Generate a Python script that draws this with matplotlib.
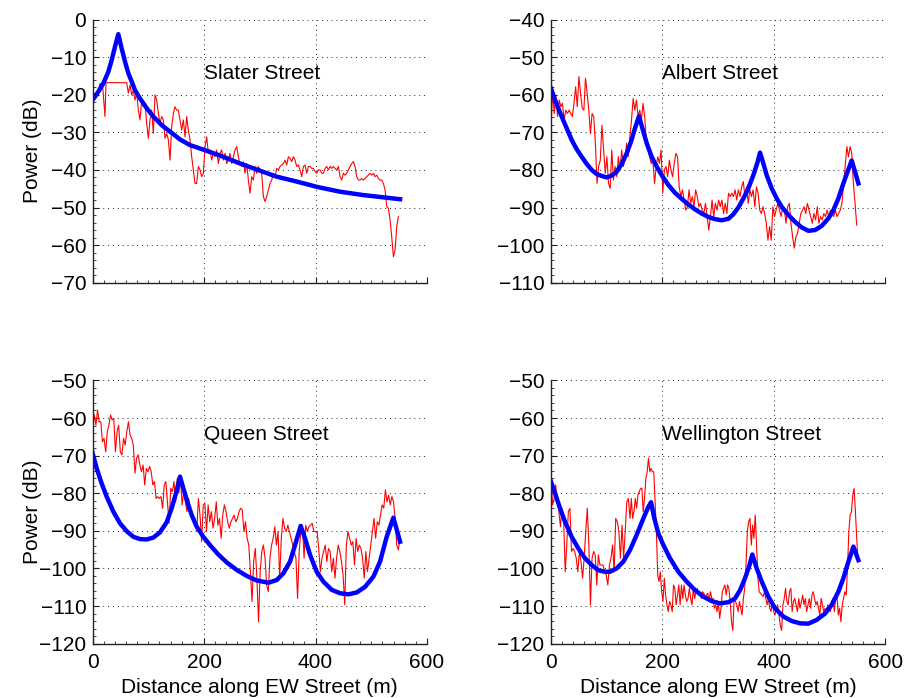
import numpy as np
import matplotlib
matplotlib.use("Agg")
import matplotlib.pyplot as plt
from matplotlib.ticker import MultipleLocator

plt.rcParams['font.family'] = ['Liberation Sans', 'DejaVu Sans']

# --- measured power along each street (dB) ---
# Slater: first few samples, then a clipped flat stretch, then regular sampling
slater_head_x = [0.3, 4.5, 7.5, 13.5, 18.3, 22.4, 24.2]
slater_head_p = [-20.1, -19.6, -20.7, -17.0, -17.9, -25.8, -16.8]
slater_body_range = (61.3, 548.7)
slater_body_p = [
    -16.8, -19.6, -17.4, -20.1, -18.8, -21.4, -19.6, -24.1, -26.7, -21.4,
    -23.2, -22.3, -27.6, -31.6, -26.7, -24.1, -30.3, -20.1, -21.4, -25.0,
    -27.6, -25.8, -26.7, -31.6, -30.3, -32.0, -37.4, -28.5, -25.0, -23.2,
    -24.1, -24.1, -26.7, -29.4, -26.7, -31.2, -25.8, -29.4, -32.0, -36.5,
    -40.0, -43.6, -43.6, -39.1, -40.0, -41.8, -40.9, -33.8, -31.2, -35.6,
    -34.7, -37.4, -35.6, -36.5, -34.7, -38.3, -35.6, -34.7, -37.4, -35.6,
    -38.3, -37.4, -35.6, -38.3, -36.5, -34.7, -33.8, -36.5, -38.3, -39.1,
    -37.8, -40.9, -38.3, -42.7, -46.2, -41.8, -42.7, -39.1, -40.9, -39.1,
    -40.0, -40.9, -47.1, -48.4, -47.1, -45.3, -43.6, -42.7, -40.9, -41.8,
    -39.6, -40.0, -39.1, -38.7, -38.3, -37.4, -38.7, -36.5, -36.9, -37.8,
    -36.5, -37.4, -39.1, -38.7, -40.0, -41.8, -39.1, -38.7, -40.9, -39.1,
    -39.1, -39.6, -39.6, -40.4, -40.9, -40.0, -40.0, -40.9, -40.9, -39.6,
    -39.1, -40.0, -39.1, -39.6, -39.1, -39.6, -40.0, -39.1, -41.8, -42.7,
    -40.9, -41.4, -40.9, -40.0, -39.1, -38.3, -37.8, -39.1, -41.8, -42.7,
    -42.7, -42.3, -42.7, -42.3, -41.8, -41.4, -40.9, -41.4, -40.9, -41.8,
    -41.4, -42.3, -42.7, -42.7, -43.6, -45.3, -49.8, -50.2, -53.3, -57.8,
    -63.1, -61.3, -55.1, -52.4,
]

albert_range = (0.5, 548.9)
albert_p = [
    -69.4, -58.8, -65.0, -60.5, -65.8, -61.4, -63.2, -62.3, -66.7, -64.1,
    -65.0, -64.1, -65.0, -65.8, -62.3, -57.9, -63.2, -55.2, -59.6, -63.6,
    -64.1, -55.6, -59.6, -64.1, -70.3, -65.0, -65.8, -72.9, -83.6, -79.1,
    -77.4, -68.1, -74.7, -80.9, -76.5, -83.6, -84.9, -74.7, -82.7, -79.1,
    -81.8, -76.5, -80.0, -74.7, -79.1, -77.4, -72.9, -76.5, -71.2, -66.7,
    -61.0, -64.1, -61.4, -65.8, -64.1, -66.7, -62.3, -65.8, -72.0, -74.7,
    -76.5, -78.3, -77.4, -83.6, -79.1, -76.5, -78.3, -74.7, -86.2, -80.0,
    -79.1, -81.8, -77.4, -80.0, -81.8, -78.3, -75.6, -76.5, -84.5, -87.1,
    -85.3, -88.0, -90.7, -89.8, -85.3, -88.9, -87.1, -89.8, -85.3, -87.1,
    -89.8, -88.9, -90.7, -91.6, -88.9, -92.4, -96.0, -92.4, -88.0, -92.4,
    -88.9, -90.7, -88.0, -89.8, -88.0, -91.6, -88.9, -91.6, -86.2, -87.1,
    -86.2, -87.1, -85.3, -88.0, -85.3, -87.1, -84.5, -83.1, -87.1, -84.5,
    -88.9, -85.3, -87.1, -85.3, -89.8, -84.5, -86.2, -90.7, -91.6, -89.8,
    -91.6, -94.2, -98.7, -95.1, -98.7, -89.8, -92.4, -90.7, -88.9, -90.7,
    -92.4, -89.8, -90.7, -94.2, -89.8, -88.9, -94.2, -97.8, -100.8, -97.8,
    -96.9, -94.2, -91.6, -90.7, -89.8, -91.6, -88.9, -90.7, -92.4, -94.2,
    -91.6, -93.3, -89.8, -94.2, -92.4, -93.3, -91.6, -92.4, -90.7, -92.4,
    -90.7, -91.6, -92.4, -90.7, -92.4, -91.6, -90.7, -88.9, -83.6, -79.1,
    -73.8, -76.5, -73.8, -75.6, -83.6, -88.9, -94.7,
]

queen_range = (0.3, 551.6)
queen_p = [
    -62.7, -59.2, -61.9, -57.9, -61.0, -61.0, -66.3, -65.4, -69.0, -63.6,
    -61.9, -59.2, -60.5, -60.1, -69.0, -63.6, -61.9, -69.0, -69.8, -65.4,
    -67.2, -63.6, -61.0, -64.5, -65.4, -67.2, -74.7, -70.7, -69.8, -72.5,
    -74.3, -72.5, -77.8, -73.4, -74.3, -72.9, -74.3, -77.8, -76.9, -81.4,
    -80.9, -81.4, -80.9, -84.0, -77.8, -76.9, -82.3, -88.0, -78.7, -79.6,
    -76.9, -82.3, -76.0, -80.0, -76.0, -83.1, -79.6, -82.3, -84.9, -81.4,
    -84.0, -85.8, -87.6, -86.7, -90.2, -81.4, -85.8, -92.9, -83.1, -82.7,
    -90.2, -83.1, -87.6, -84.9, -89.3, -86.7, -82.3, -88.5, -86.7, -92.0,
    -85.8, -83.1, -84.9, -87.6, -89.3, -87.6, -86.7, -85.8, -87.6, -86.7,
    -84.9, -84.0, -84.5, -90.2, -87.6, -92.0, -93.8, -100.9, -108.8, -98.2,
    -94.7, -102.6, -114.2, -100.9, -95.5, -93.8, -97.3, -104.4, -106.2, -97.3,
    -93.8, -92.0, -88.9, -93.8, -90.2, -102.6, -92.0, -86.7, -89.3, -90.2,
    -88.5, -90.2, -92.0, -93.8, -95.5, -97.3, -108.0, -95.5, -90.2, -88.5,
    -97.3, -88.5, -90.2, -88.9, -88.5, -88.0, -90.2, -90.2, -90.2, -94.7,
    -100.9, -97.3, -95.5, -93.8, -98.2, -94.7, -95.5, -100.9, -97.3, -102.6,
    -97.3, -93.8, -95.5, -98.2, -101.8, -109.7, -93.8, -90.2, -92.0, -93.8,
    -92.9, -99.1, -92.0, -95.5, -93.8, -94.7, -97.3, -102.6, -95.5, -100.9,
    -97.3, -93.8, -90.2, -86.7, -92.0, -87.6, -88.5, -85.8, -83.1, -84.0,
    -79.1, -82.3, -80.5, -83.1, -80.9, -82.3, -86.7, -93.8, -95.1, -92.0,
]

# Wellington was read in two stretches with different sample spacing
wellington_range_a = (0.5, 139.3)
wellington_p_a = [
    -75.2, -83.1, -81.4, -77.8, -82.3, -84.9, -88.9, -84.0, -86.7, -100.9,
    -93.8, -84.9, -84.0, -95.5, -94.7, -95.5, -97.3, -100.9, -95.5, -98.2,
    -102.6, -97.3, -90.2, -84.0, -93.8, -109.7, -97.3, -95.5, -96.4, -104.4,
    -96.4, -99.1, -99.1, -99.1, -100.9, -101.8, -104.4, -99.1, -97.3, -93.8,
    -100.9, -86.7, -87.6, -90.2, -97.3, -88.5, -97.3, -90.2, -82.3, -81.4,
]
wellington_range_b = (142.3, 551.3)
wellington_p_b = [
    -86.7, -81.4, -86.7, -84.9, -81.4, -84.0, -80.5, -79.6, -78.7, -78.7,
    -84.9, -81.4, -76.0, -74.3, -70.7, -74.3, -73.4, -74.3, -74.3, -82.3,
    -90.2, -101.8, -103.5, -100.9, -106.2, -108.8, -102.6, -107.1, -109.7, -111.5,
    -108.8, -109.7, -111.5, -104.4, -105.3, -109.7, -107.1, -104.4, -109.7, -104.4,
    -108.0, -104.4, -107.1, -108.8, -108.0, -105.3, -108.0, -109.7, -105.3, -108.0,
    -106.2, -105.3, -107.1, -106.2, -108.0, -106.2, -106.6, -108.0, -107.1, -106.6,
    -108.8, -106.2, -108.0, -108.0, -110.6, -109.7, -111.5, -108.8, -113.3, -110.6,
    -106.2, -105.3, -104.4, -107.1, -104.4, -105.3, -108.8, -114.2, -116.5, -108.0,
    -108.8, -109.7, -111.5, -108.8, -110.6, -112.4, -108.0, -105.3, -99.1, -90.2,
    -87.6, -86.7, -93.8, -88.5, -92.0, -85.8, -93.8, -102.6, -106.2, -106.6,
    -107.1, -107.5, -106.2, -108.0, -109.7, -108.0, -110.6, -111.5, -108.8, -111.5,
    -112.4, -110.6, -109.7, -112.4, -115.1, -116.5, -109.7, -108.0, -105.3, -108.8,
    -109.7, -106.2, -105.3, -111.5, -108.8, -108.0, -109.7, -111.5, -108.0, -110.6,
    -108.8, -107.1, -109.7, -108.0, -111.5, -109.7, -108.0, -110.6, -107.1, -106.2,
    -108.0, -109.7, -108.8, -110.6, -112.4, -108.0, -109.7, -111.5, -110.6, -111.5,
    -109.7, -110.6, -111.5, -108.8, -108.0, -111.5, -108.0, -107.1, -112.4, -110.6,
    -114.2, -109.7, -108.0, -106.2, -107.1, -100.0, -90.2, -85.8, -84.9, -80.5,
    -78.7, -84.9, -92.0, -98.2,
]

# --- ray-tracing model (distance m, power dB) ---
slater_model_x = [0.3, 10.5, 19.4, 28.4, 34.4, 40.4, 46.3, 52.3, 58.3, 64.3, 70.3, 76.2,
                  85.2, 97.2, 109.1, 124.1, 139.0, 157.0, 174.9, 200.6, 234.6, 264.6,
                  294.5, 330.4, 366.3, 402.2, 444.0, 485.9, 521.8, 551.7]
slater_model_p = [-21.4, -19.2, -17.0, -13.9, -10.8, -7.2, -3.9, -7.7, -11.2, -14.3, -16.5,
                  -18.8, -21.0, -23.6, -25.8, -28.1, -29.8, -31.9, -33.4, -34.7, -36.5,
                  -38.3, -39.9, -41.8, -43.1, -44.5, -45.8, -46.7, -47.3, -47.8]

albert_model_x = [0.5, 7.7, 13.7, 19.7, 28.6, 37.6, 46.6, 55.6, 64.5, 73.5, 82.5, 91.4,
                  100.4, 109.4, 118.3, 127.3, 136.3, 144.0, 151.2, 158.4, 164.4, 172.2,
                  181.1, 190.1, 199.1, 211.0, 223.0, 235.0, 246.9, 258.9, 270.8, 282.8,
                  294.7, 306.7, 318.7, 327.6, 336.6, 345.6, 354.5, 363.5, 370.7, 375.5,
                  381.5, 387.4, 396.4, 405.4, 414.4, 426.3, 438.3, 450.2, 462.2, 474.2,
                  486.1, 498.1, 507.0, 516.0, 525.0, 533.9, 539.9, 545.9, 551.9]
albert_model_p = [-58.3, -61.4, -63.6, -65.8, -68.9, -72.0, -74.5, -76.5, -78.4, -80.0,
                  -81.1, -81.6, -82.0, -81.5, -80.5, -78.4, -75.6, -72.5, -68.9, -65.7,
                  -68.9, -72.9, -76.5, -79.1, -81.4, -84.0, -86.1, -87.7, -89.2, -90.5,
                  -91.6, -92.5, -93.1, -93.4, -93.0, -91.8, -90.0, -87.6, -84.9, -81.4,
                  -78.1, -75.4, -78.3, -81.4, -84.9, -87.6, -89.8, -92.0, -93.8, -95.3,
                  -96.2, -96.0, -94.9, -92.9, -90.7, -87.6, -83.6, -79.9, -77.5, -80.5,
                  -83.6]

queen_model_x = [0.3, 7.5, 16.4, 25.4, 37.4, 49.3, 61.3, 73.3, 85.2, 97.2, 109.1, 121.1,
                 133.1, 142.0, 149.8, 157.0, 163.0, 170.1, 177.9, 186.9, 198.8, 210.8,
                 225.7, 240.7, 258.6, 276.6, 294.5, 315.4, 330.4, 342.4, 354.3, 363.3,
                 373.4, 381.2, 390.2, 402.2, 414.1, 429.1, 444.0, 459.0, 473.9, 488.9,
                 503.8, 515.8, 527.7, 539.7, 551.7]
queen_model_p = [-69.4, -73.4, -77.4, -80.9, -84.9, -88.0, -90.1, -91.6, -92.2, -92.3,
                 -91.8, -90.4, -87.7, -84.0, -80.0, -75.6, -78.7, -82.3, -85.8, -88.9,
                 -91.6, -93.8, -96.3, -98.4, -100.4, -102.0, -103.2, -103.8, -103.1,
                 -101.3, -98.2, -93.8, -88.7, -92.0, -96.4, -100.9, -103.5, -105.7,
                 -106.6, -106.9, -106.4, -104.9, -102.2, -98.2, -91.6, -86.5, -92.9]

wellington_model_x = [0.5, 7.7, 16.7, 25.7, 37.6, 49.6, 61.5, 73.5, 85.5, 97.4, 106.4,
                      118.3, 130.3, 142.3, 154.2, 166.2, 175.2, 180.0, 185.9, 193.1, 202.1,
                      214.0, 229.0, 243.9, 258.9, 273.8, 288.8, 303.7, 318.7, 330.6, 339.6,
                      348.6, 355.8, 361.7, 369.5, 378.5, 390.4, 402.4, 417.3, 432.3, 447.2,
                      462.2, 477.1, 492.1, 504.0, 516.0, 525.0, 534.0, 543.0, 551.9]
wellington_model_p = [-76.9, -80.0, -84.0, -87.6, -91.6, -94.7, -97.3, -99.1, -100.5,
                      -100.9, -100.9, -100.0, -98.2, -95.1, -91.1, -86.7, -83.6, -82.4,
                      -86.7, -90.7, -93.8, -97.3, -100.9, -103.5, -105.8, -107.5, -108.7,
                      -109.3, -109.0, -108.0, -105.8, -102.6, -99.5, -96.3, -100.0, -103.5,
                      -107.5, -110.6, -112.8, -114.0, -114.6, -114.7, -113.7, -112.0,
                      -109.7, -106.2, -102.6, -98.2, -94.2, -97.8]

street_names = ["Slater Street", "Albert Street", "Queen Street", "Wellington Street"]
y_limits = [(-70, 0), (-110, -40), (-120, -50), (-120, -50)]

# sample positions of the measurements
slater_x = np.concatenate([slater_head_x, np.linspace(*slater_body_range, len(slater_body_p))])
slater_p = np.concatenate([slater_head_p, slater_body_p])
albert_x = np.linspace(*albert_range, len(albert_p))
queen_x = np.linspace(*queen_range, len(queen_p))
wellington_x = np.concatenate([np.linspace(*wellington_range_a, len(wellington_p_a)),
                               np.linspace(*wellington_range_b, len(wellington_p_b))])
wellington_p = np.concatenate([wellington_p_a, wellington_p_b])

measured = [(slater_x, slater_p), (albert_x, albert_p), (queen_x, queen_p),
            (wellington_x, wellington_p)]
model = [(slater_model_x, slater_model_p), (albert_model_x, albert_model_p),
         (queen_model_x, queen_model_p), (wellington_model_x, wellington_model_p)]

fig = plt.figure(figsize=(9.06, 6.98), dpi=100)
W, H = 906, 698
boxes = [(92.5, 19.5), (550.7, 19.5), (92.5, 380.4), (550.7, 380.4)]  # left, top in px
ax_w, ax_h = 334.5, 263.2

for i, (name, (mx, mp), (bx, bp), ylim) in enumerate(zip(street_names, measured, model, y_limits)):
    left, top = boxes[i]
    ax = fig.add_axes([left / W, 1 - (top + ax_h) / H, ax_w / W, ax_h / H])
    ax.plot(mx, mp, color='red', lw=0.8)
    ax.plot(bx, bp, color='blue', lw=3.2, solid_joinstyle='round')
    ax.set_xlim(0, 600)
    ax.set_ylim(*ylim)
    ax.xaxis.set_major_locator(MultipleLocator(200))
    ax.xaxis.set_minor_locator(MultipleLocator(20))
    ax.yaxis.set_major_locator(MultipleLocator(10))
    ax.yaxis.set_minor_locator(MultipleLocator(2))
    ax.grid(True, which='major', color='#222222', lw=0.7, linestyle=(0, (1, 4)))
    for s in ['top', 'right']:
        ax.spines[s].set_visible(False)
    for s in ['left', 'bottom']:
        ax.spines[s].set_color('#222222')
        ax.spines[s].set_linewidth(1.0)
    ax.tick_params(which='both', direction='in', colors='#222222', labelcolor='black')
    ax.tick_params(which='major', length=4, labelsize=15)
    ax.tick_params(which='minor', length=2)
    ax.tick_params(axis='x', pad=7)
    ax.tick_params(axis='y', pad=4.5)
    ax.text(200, ylim[1] - 14.3, name, fontsize=15, ha='left', va='center')
    if i < 2:
        ax.set_xticklabels([])
    else:
        ax.set_xlabel("Distance along EW Street (m)", fontsize=15)
        ax.xaxis.set_label_coords(0.5, -0.131)
    if i % 2 == 0:
        ax.set_ylabel("Power (dB)", fontsize=15)
        ax.yaxis.set_label_coords(-0.151, 0.5)

fig.savefig("out.png", dpi=100)
